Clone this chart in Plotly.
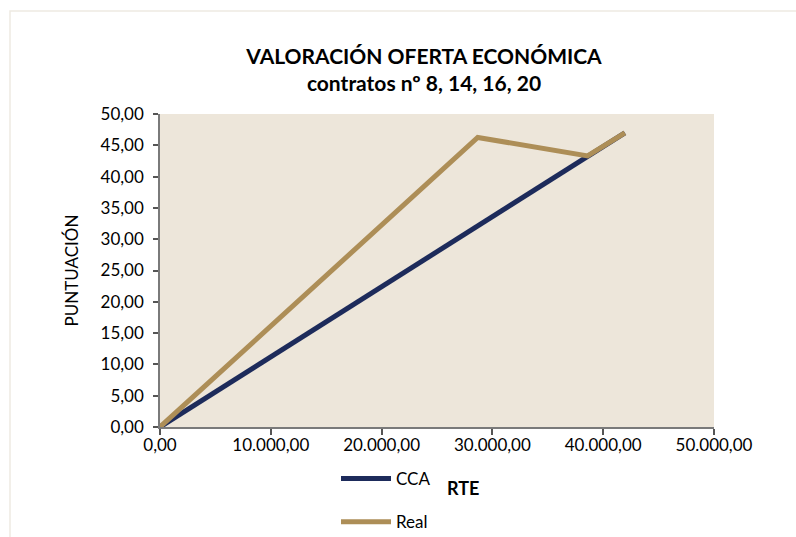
import plotly.graph_objects as go

# Data
rte = [0, 28676, 38592, 41956]
cca = [0, 32.13, 43.30, 47.00]
real = [0, 46.25, 43.30, 47.00]

x_ticks = [0, 10000, 20000, 30000, 40000, 50000]
y_ticks = [0, 5, 10, 15, 20, 25, 30, 35, 40, 45, 50]

NAVY = "#1D2B5B"
TAN = "#AD8E57"
FONT = "Lato"

W, H = 796, 537
L, R, T, B = 160, 82, 114, 110
pw, ph = W - L - R, H - T - B

def px_x(p):
    return (p - L) / pw

def px_y(p):
    return (H - B - p) / ph

fig = go.Figure()
fig.add_trace(go.Scatter(x=rte, y=cca, mode="lines", name="CCA",
                         line=dict(color=NAVY, width=5), legendgroup="a"))
fig.add_trace(go.Scatter(x=rte, y=real, mode="lines", name="Real",
                         line=dict(color=TAN, width=5), legendgroup="b"))

fig.update_layout(
    width=W, height=H,
    margin=dict(l=L, r=R, t=T, b=B, autoexpand=False),
    paper_bgcolor="white",
    plot_bgcolor="#EDE6DA",
    separators=",.",
    font=dict(family=FONT, size=17, color="#000000"),
    title=dict(
        text="<b>VALORACIÓN OFERTA ECONÓMICA<br>contratos nº 8, 14, 16, 20</b>",
        x=424 / W, xanchor="center", xref="container",
        y=1 - 64 / H, yanchor="middle", yref="container",
        font=dict(family=FONT, size=21, color="#000000"),
    ),
    xaxis=dict(
        range=[0, 50000], tickvals=x_ticks, tickformat=",.2f",
        showgrid=False, zeroline=False, showline=True, linecolor="#7a7a7a", linewidth=1.5,
        ticks="outside", ticklen=6, tickcolor="#555555", tickwidth=1.5,
        ticklabelstandoff=-4,
    ),
    yaxis=dict(
        range=[0, 50], tickvals=y_ticks, tickformat=".2f",
        showgrid=False, zeroline=False, showline=True, linecolor="#7a7a7a", linewidth=1.5,
        ticks="outside", ticklen=5, tickcolor="#555555", tickwidth=1.5,
        ticklabelstandoff=6,
        title=dict(text="PUNTUACIÓN", font=dict(family=FONT, size=17), standoff=18),
    ),
    showlegend=True,
    legend=dict(
        x=px_x(336), y=px_y(461), xanchor="left", yanchor="top",
        orientation="v", traceorder="grouped", tracegroupgap=18,
        bgcolor="rgba(0,0,0,0)", font=dict(family=FONT, size=17),
        itemwidth=50,
    ),
    annotations=[dict(text="<b>RTE</b>", xref="paper", yref="paper",
                      x=px_x(463), y=px_y(488), xanchor="center", yanchor="middle",
                      showarrow=False, font=dict(family=FONT, size=18, color="#000000"))],
    shapes=[dict(type="rect", xref="paper", yref="paper",
                 x0=px_x(10), x1=px_x(806), y0=px_y(560), y1=px_y(11),
                 line=dict(color="#EEEAE2", width=1.5), fillcolor="rgba(0,0,0,0)",
                 layer="below")],
)

fig.write_html("out.html", config={"displayModeBar": False},
               post_script="document.body.style.margin='0';")
